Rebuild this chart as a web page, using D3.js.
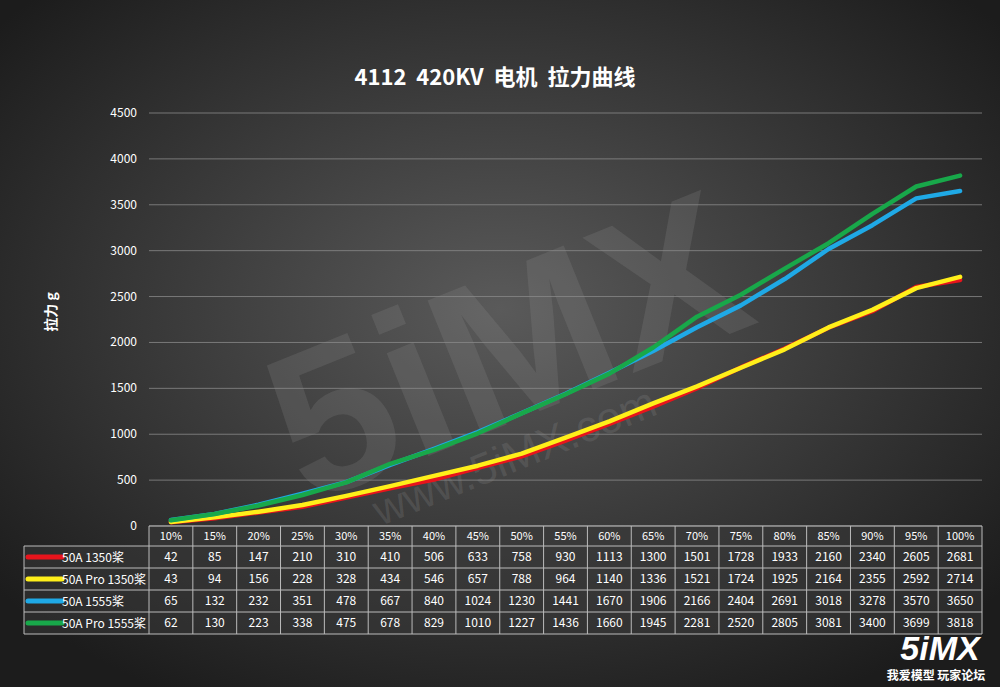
<!DOCTYPE html>
<html><head><meta charset="utf-8">
<script src="https://cdn.jsdelivr.net/npm/d3@7"></script>
<style>body{margin:0;background:#222}svg{display:block}</style>
</head><body><svg id="c" width="1000" height="687"></svg>
<script>
const categories=["10%","15%","20%","25%","30%","35%","40%","45%","50%","55%","60%","65%","70%","75%","80%","85%","90%","95%","100%"];
const seriesNames=["50A 1350桨","50A Pro 1350桨","50A 1555桨","50A Pro 1555桨"];
const colors=["#e8141c","#ffef1a","#1fa9e6","#18a84a"];
const s1=[42,85,147,210,310,410,506,633,758,930,1113,1300,1501,1728,1933,2160,2340,2605,2681];
const s2=[43,94,156,228,328,434,546,657,788,964,1140,1336,1521,1724,1925,2164,2355,2592,2714];
const s3=[65,132,232,351,478,667,840,1024,1230,1441,1670,1906,2166,2404,2691,3018,3278,3570,3650];
const s4=[62,130,223,338,475,678,829,1010,1227,1436,1660,1945,2281,2520,2805,3081,3400,3699,3818];
const yTicks=[0,500,1000,1500,2000,2500,3000,3500,4000,4500];
const series=[s1,s2,s3,s4];

const svg=d3.select("#c");
const defs=svg.append("defs");
const g=defs.append("radialGradient").attr("id","bg").attr("cx","50%").attr("cy","45%").attr("r","65%");
g.append("stop").attr("offset","0%").attr("stop-color","#5a5a5a");
g.append("stop").attr("offset","100%").attr("stop-color","#1c1c1c");
svg.append("rect").attr("width",1000).attr("height",687).attr("fill","url(#bg)");

const L=149,R=982,T=113,B=526;
const x=d3.scaleBand().domain(categories).range([L,R]);
const y=d3.scaleLinear().domain([0,4500]).range([B,T]);
const font="'Noto Sans CJK SC','Noto Sans',sans-serif";

// watermark
svg.append("text").attr("x",500).attr("y",420).attr("text-anchor","middle").attr("transform","rotate(-22,500,330)")
 .attr("font-family","Arial,sans-serif").attr("font-weight","bold").attr("font-size",210)
 .attr("fill","#999").attr("fill-opacity",0.18).text("5iMX");
svg.append("text").attr("x",520).attr("y",470).attr("text-anchor","middle").attr("transform","rotate(-22,520,470)")
 .attr("font-family","Arial,sans-serif").attr("font-size",44)
 .attr("fill","#999").attr("fill-opacity",0.2).text("www.5iMX.com");

// grid
svg.append("g").selectAll("line").data(yTicks).join("line")
 .attr("x1",L).attr("x2",R).attr("y1",d=>y(d)).attr("y2",d=>y(d))
 .attr("stroke","#8a8a8a").attr("stroke-width",0.8);
svg.append("g").selectAll("text").data(yTicks).join("text")
 .attr("x",L-12).attr("y",d=>y(d)+4).attr("text-anchor","end").attr("fill","#fff")
 .attr("font-family",font).attr("font-size",12).text(d=>d);

svg.append("text").attr("x",495).attr("y",85).attr("text-anchor","middle").attr("fill","#fff")
 .attr("font-family",font).attr("font-weight","bold").attr("font-size",22).attr("xml:space","preserve")
 .style("white-space","pre").text("4112  420KV  电机  拉力曲线");
svg.append("text").attr("transform","translate(56,312) rotate(-90)").attr("text-anchor","middle").attr("fill","#fff")
 .attr("font-family",font).attr("font-weight","bold").attr("font-size",14).text("拉力 g");

const line=d3.line().x((d,i)=>x(categories[i])+x.bandwidth()/2).y(d=>y(d)).curve(d3.curveLinear);
series.forEach((s,k)=>{
 svg.append("path").attr("d",line(s)).attr("fill","none").attr("stroke",colors[k]).attr("stroke-width",4.5)
  .attr("stroke-linejoin","round").attr("stroke-linecap","round");
});

// table
const rowH=22, hdrH=20, labL=24;
const tg=svg.append("g");
const lc="#bbb";
tg.append("rect").attr("x",L).attr("y",B).attr("width",R-L).attr("height",hdrH+4*rowH).attr("fill","#3a3a3a").attr("fill-opacity",0.5);
tg.append("rect").attr("x",labL).attr("y",B+hdrH).attr("width",L-labL).attr("height",4*rowH).attr("fill","#3a3a3a").attr("fill-opacity",0.5);
categories.forEach(c=>{
 tg.append("text").attr("x",x(c)+x.bandwidth()/2).attr("y",B+14).attr("text-anchor","middle").attr("fill","#fff")
  .attr("font-family",font).attr("font-size",11).text(c);
});
series.forEach((s,k)=>{
 const yy=B+hdrH+k*rowH;
 s.forEach((v,i)=>tg.append("text").attr("x",x(categories[i])+x.bandwidth()/2).attr("y",yy+15).attr("text-anchor","middle")
  .attr("fill","#fff").attr("font-family",font).attr("font-size",12).text(v));
 tg.append("line").attr("x1",labL+4).attr("x2",labL+38).attr("y1",yy+11).attr("y2",yy+11).attr("stroke",colors[k]).attr("stroke-width",5).attr("stroke-linecap","round");
 tg.append("text").attr("x",labL+38).attr("y",yy+16).attr("fill","#fff").attr("font-family",font).attr("font-size",12).text(seriesNames[k]);
});
for(let i=0;i<=categories.length;i++){const xx=L+i*x.bandwidth();
 tg.append("line").attr("x1",xx).attr("x2",xx).attr("y1",B).attr("y2",B+hdrH+4*rowH).attr("stroke",lc);}
tg.append("line").attr("x1",L).attr("x2",R).attr("y1",B).attr("y2",B).attr("stroke",lc);
for(let k=0;k<=4;k++){const yy=B+hdrH+k*rowH;
 tg.append("line").attr("x1",labL).attr("x2",R).attr("y1",yy).attr("y2",yy).attr("stroke",lc);}
tg.append("line").attr("x1",labL).attr("x2",labL).attr("y1",B+hdrH).attr("y2",B+hdrH+4*rowH).attr("stroke",lc);

// logo
svg.append("text").attr("x",940).attr("y",660).attr("text-anchor","middle").attr("fill","#fff")
 .attr("font-family","Arial,sans-serif").attr("font-weight","bold").attr("font-style","italic").attr("font-size",34).text("5iMX");
svg.append("text").attr("x",936).attr("y",680).attr("text-anchor","middle").attr("fill","#fff")
 .attr("font-family",font).attr("font-weight","bold").attr("font-size",12).text("我爱模型  玩家论坛");
</script></body></html>
